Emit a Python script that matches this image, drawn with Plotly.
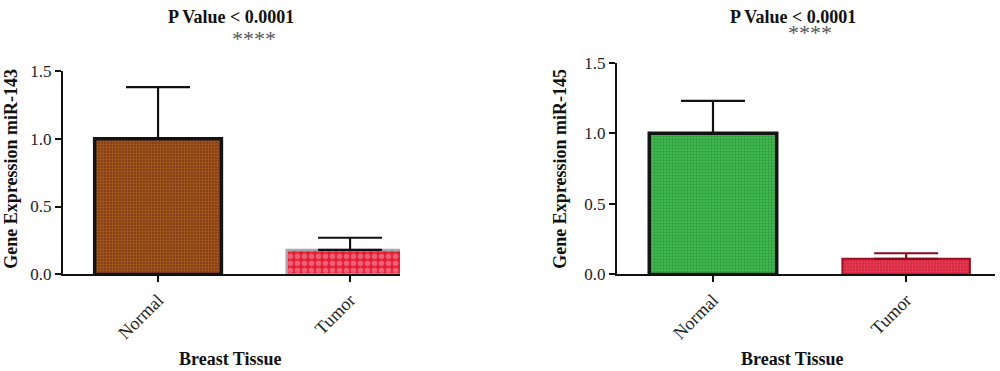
import plotly.graph_objects as go

categories = ["Normal", "Tumor"]
mir143_mean = [1.0, 0.18]
mir143_err = [0.38, 0.09]
mir145_mean = [1.0, 0.11]
mir145_err = [0.23, 0.04]
y_ticks = [0.0, 0.5, 1.0, 1.5]
y_ticklabels = ["0.0", "0.5", "1.0", "1.5"]

W, H = 1000, 371
FONT = "Liberation Serif"

# the photographed page comes out slightly squeezed vertically; compensate
def Y(y):
    return (y - 8.0) / 0.951

def px_x(a, b):
    return [a / W, b / W]

def px_y(top, bottom):
    return [1 - Y(bottom) / H, 1 - Y(top) / H]

fig = go.Figure()

styles_143 = [
    dict(bg="#7a3410", fg="#e08a36", line="#141414", lw=3.5, size=3, sol=0.5, err="#111111"),
    dict(bg="#e41e34", fg="#f4a0b4", line="#a8a8a8", lw=2.5, size=7, sol=0.5, err="#111111"),
]
styles_145 = [
    dict(bg="#46c452", fg="#17702a", line="#141414", lw=3.5, size=3, sol=0.5, err="#111111"),
    dict(bg="#d81e38", fg="#f07088", line="#9a1020", lw=2, size=3, sol=0.45, err="#8a0c1c"),
]

def add_bars(means, errs, styles, xa, ya):
    for cat, m, e, s in zip(categories, means, errs, styles):
        fig.add_trace(go.Bar(
            x=[cat], y=[m], xaxis=xa, yaxis=ya, width=0.66,
            error_y=dict(type="data", array=[e], symmetric=False, arrayminus=[0],
                         color=s["err"], thickness=2.2, width=32),
            marker=dict(
                color=s["bg"],
                line=dict(color=s["line"], width=s["lw"]),
                pattern=dict(shape=".", fgcolor=s["fg"], bgcolor=s["bg"],
                             size=s["size"], solidity=s["sol"], fillmode="overlay"),
            ),
            showlegend=False,
        ))

add_bars(mir143_mean, mir143_err, styles_143, "x", "y")
add_bars(mir145_mean, mir145_err, styles_145, "x2", "y2")

axis_common = dict(showgrid=False, zeroline=False, showline=True, linecolor="#111111",
                   linewidth=2.2, ticks="outside", tickcolor="#111111", tickwidth=2.2,
                   ticklen=6, tickfont=dict(family=FONT, size=17, color="#222222"))

fig.update_layout(
    width=W, height=H,
    margin=dict(l=0, r=0, t=0, b=0),
    paper_bgcolor="white", plot_bgcolor="white",
    barmode="overlay",
    xaxis=dict(domain=px_x(63, 400), range=[-0.495, 1.26], tickangle=-45,
               **axis_common),
    yaxis=dict(domain=px_y(70, 274), range=[0, 1.5], tickvals=y_ticks,
               ticktext=y_ticklabels, anchor="x", **axis_common),
    xaxis2=dict(domain=px_x(617, 995), range=[-0.497, 1.46], tickangle=-45,
                anchor="y2", **axis_common),
    yaxis2=dict(domain=px_y(62, 274), range=[0, 1.5], tickvals=y_ticks,
                ticktext=y_ticklabels, anchor="x2", **axis_common),
)
fig.update_xaxes(tickfont=dict(size=18))

def txt(x, y, s, size, color="#111111", bold=True, angle=0):
    fig.add_annotation(x=x / W, y=1 - Y(y) / H, xref="paper", yref="paper",
                       text=f"<b>{s}</b>" if bold else s, showarrow=False,
                       textangle=angle, xanchor="center", yanchor="middle",
                       font=dict(family=FONT, size=size, color=color))

txt(231, 16, "P Value &lt; 0.0001", 18)
txt(254, 38, "****", 22, color="#555555", bold=False)
txt(793, 16, "P Value &lt; 0.0001", 18)
txt(810, 32, "****", 22, color="#555555", bold=False)
txt(11, 168, "Gene Expression miR-143", 18, angle=-90)
txt(560, 168, "Gene Expression miR-145", 18, angle=-90)
txt(230, 359, "Breast Tissue", 18)
txt(792, 359, "Breast Tissue", 18)

page_css = ("document.documentElement.style.cssText='margin:0;padding:0;overflow:hidden;height:371px';"
            "document.body.style.cssText='margin:0;padding:0;overflow:hidden;height:371px';")
fig.write_html("out.html", config={"displayModeBar": False}, post_script=page_css)
